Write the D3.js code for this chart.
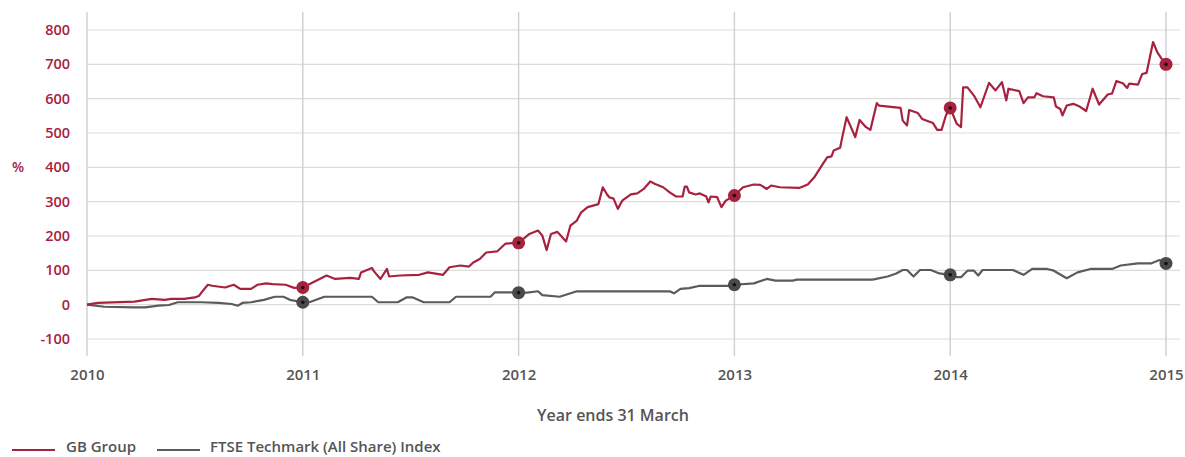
<!DOCTYPE html>
<html>
<head>
<meta charset="utf-8">
<script src="https://cdn.jsdelivr.net/npm/d3@7"></script>
<style>
  body { margin: 0; background: #fff; }
  text { font-family: "Open Sans", sans-serif; }
</style>
</head>
<body>
<div id="chart"></div>
<script>
// GB Group total shareholder return, % (decimal year, value)
const gbGroup = [
    [2010.00, 0], [2010.05, 5], [2010.22, 9], [2010.30, 17], [2010.36, 14], [2010.39, 17],
    [2010.45, 17], [2010.50, 21], [2010.52, 26], [2010.53, 35], [2010.56, 58], [2010.58, 55],
    [2010.64, 50], [2010.68, 58], [2010.71, 46], [2010.76, 46], [2010.79, 58], [2010.83, 62],
    [2010.86, 60], [2010.92, 58], [2010.96, 49], [2011.00, 50], [2011.11, 85], [2011.15, 75],
    [2011.22, 78], [2011.26, 75], [2011.27, 94], [2011.32, 107], [2011.33, 97], [2011.36, 75],
    [2011.39, 104], [2011.40, 82], [2011.45, 85], [2011.54, 87], [2011.58, 94], [2011.65, 87],
    [2011.68, 109], [2011.73, 114], [2011.77, 111], [2011.79, 123], [2011.82, 133], [2011.85, 152],
    [2011.90, 155], [2011.94, 178], [2012.00, 180], [2012.05, 206], [2012.09, 216], [2012.11, 201],
    [2012.13, 159], [2012.15, 206], [2012.18, 212], [2012.22, 184], [2012.24, 230], [2012.27, 245],
    [2012.29, 269], [2012.32, 284], [2012.37, 293], [2012.39, 342], [2012.41, 321], [2012.42, 313],
    [2012.44, 309], [2012.46, 279], [2012.48, 303], [2012.52, 321], [2012.55, 324], [2012.58, 337],
    [2012.61, 359], [2012.63, 352], [2012.67, 342], [2012.70, 327], [2012.73, 315], [2012.76, 315],
    [2012.77, 344], [2012.78, 344], [2012.79, 327], [2012.82, 321], [2012.84, 324], [2012.87, 315],
    [2012.88, 298], [2012.89, 315], [2012.92, 313], [2012.94, 284], [2012.96, 303], [2013.00, 318],
    [2013.04, 342], [2013.09, 350], [2013.12, 349], [2013.15, 337], [2013.17, 347], [2013.21, 342],
    [2013.30, 340], [2013.34, 350], [2013.37, 371], [2013.41, 410], [2013.43, 429], [2013.45, 432],
    [2013.46, 449], [2013.49, 457], [2013.50, 488], [2013.52, 546], [2013.54, 517], [2013.56, 488],
    [2013.58, 538], [2013.61, 517], [2013.63, 509], [2013.66, 587], [2013.67, 580], [2013.77, 573],
    [2013.78, 536], [2013.80, 522], [2013.81, 567], [2013.85, 558], [2013.87, 541], [2013.92, 529],
    [2013.94, 509], [2013.96, 509], [2013.98, 551], [2014.00, 573], [2014.03, 527], [2014.05, 517],
    [2014.06, 633], [2014.08, 633], [2014.11, 609], [2014.14, 575], [2014.18, 646], [2014.21, 624],
    [2014.24, 648], [2014.26, 595], [2014.27, 629], [2014.32, 622], [2014.34, 587], [2014.36, 604],
    [2014.39, 604], [2014.40, 616], [2014.43, 607], [2014.48, 604], [2014.49, 577], [2014.51, 570],
    [2014.52, 551], [2014.54, 580], [2014.57, 585], [2014.60, 577], [2014.63, 564], [2014.66, 629],
    [2014.69, 583], [2014.73, 612], [2014.75, 615], [2014.77, 651], [2014.80, 645], [2014.82, 631],
    [2014.83, 644], [2014.87, 641], [2014.89, 672], [2014.91, 675], [2014.94, 765], [2014.96, 735],
    [2014.98, 716], [2015.00, 700]
];

// FTSE Techmark (All Share) Index, % (decimal year, value)
const ftseTechmark = [
    [2010.00, 0], [2010.08, -6], [2010.22, -8], [2010.27, -8], [2010.33, -3], [2010.38, -1],
    [2010.42, 7], [2010.53, 7], [2010.61, 5], [2010.67, 2], [2010.70, -3], [2010.72, 5],
    [2010.76, 7], [2010.82, 14], [2010.87, 23], [2010.91, 23], [2010.94, 14], [2011.00, 7],
    [2011.03, 7], [2011.10, 23], [2011.32, 23], [2011.35, 7], [2011.44, 7], [2011.48, 21],
    [2011.51, 21], [2011.56, 7], [2011.68, 7], [2011.71, 23], [2011.87, 23], [2011.89, 36],
    [2011.97, 36], [2012.00, 35], [2012.04, 35], [2012.09, 39], [2012.11, 28], [2012.19, 23],
    [2012.27, 39], [2012.70, 39], [2012.72, 33], [2012.75, 46], [2012.79, 48], [2012.84, 55],
    [2012.98, 55], [2013.00, 58], [2013.09, 62], [2013.15, 75], [2013.19, 70], [2013.27, 70],
    [2013.29, 73], [2013.64, 73], [2013.71, 82], [2013.75, 91], [2013.78, 101], [2013.80, 101],
    [2013.83, 82], [2013.86, 101], [2013.91, 101], [2013.95, 91], [2014.00, 87], [2014.03, 80],
    [2014.05, 80], [2014.08, 99], [2014.11, 99], [2014.13, 85], [2014.15, 101], [2014.29, 101],
    [2014.34, 87], [2014.38, 104], [2014.45, 104], [2014.48, 99], [2014.54, 77], [2014.59, 94],
    [2014.65, 104], [2014.75, 104], [2014.79, 114], [2014.87, 120], [2014.93, 120], [2014.97, 130],
    [2015.00, 120]
];

const yearTicks = [2010, 2011, 2012, 2013, 2014, 2015];
const valueTicks = [-100, 0, 100, 200, 300, 400, 500, 600, 700, 800];
const seriesNames = ["GB Group", "FTSE Techmark (All Share) Index"];

const red = "#a8213f", grey = "#5b5b5b";
const width = 1185, height = 457;

const svg = d3.select("#chart").append("svg")
    .attr("width", width)
    .attr("height", height);

const x = d3.scaleLinear().domain([2010, 2015]).range([87, 1166]);
const y = d3.scaleLinear().domain([-100, 800]).range([339, 30]);

// horizontal grid
svg.append("g")
    .selectAll("line")
    .data(valueTicks)
    .enter().append("line")
    .attr("x1", 87).attr("x2", 1180)
    .attr("y1", d => y(d)).attr("y2", d => y(d))
    .attr("stroke", "#dcdcdc")
    .attr("stroke-width", 1.2);

// vertical grid (one per year)
svg.append("g")
    .selectAll("line")
    .data(yearTicks)
    .enter().append("line")
    .attr("x1", d => x(d)).attr("x2", d => x(d))
    .attr("y1", 12).attr("y2", 356)
    .attr("stroke", "#cfcfcf")
    .attr("stroke-width", 1.4);

// y axis labels (plain hyphen for negatives, as in the source)
const yAxis = svg.append("g")
    .attr("transform", "translate(70,0)")
    .call(d3.axisLeft(y).tickValues(valueTicks).tickFormat(d => String(d)).tickSize(0).tickPadding(0));
yAxis.select(".domain").remove();
yAxis.selectAll("text")
    .attr("fill", red)
    .style("font-size", "14.5px")
    .style("font-weight", "600");

svg.append("text")
    .attr("x", 12).attr("y", y(400) + 5)
    .attr("fill", red)
    .style("font-size", "14px")
    .style("font-weight", "600")
    .text("%");

// x axis labels
const xAxis = svg.append("g")
    .attr("transform", "translate(0,369)")
    .call(d3.axisBottom(x).tickValues(yearTicks).tickFormat(d3.format("d")).tickSize(0).tickPadding(0));
xAxis.select(".domain").remove();
xAxis.selectAll("text")
    .attr("fill", "#555")
    .style("font-size", "15px")
    .style("font-weight", "600");

svg.append("text")
    .attr("x", 613).attr("y", 421)
    .attr("text-anchor", "middle")
    .attr("fill", "#555")
    .style("font-size", "16px")
    .style("font-weight", "600")
    .text("Year ends 31 March");

// lines
const line = d3.line().x(d => x(d[0])).y(d => y(d[1]));

svg.append("path")
    .datum(ftseTechmark)
    .attr("fill", "none")
    .attr("stroke", grey)
    .attr("stroke-width", 2.2)
    .attr("stroke-linejoin", "round")
    .attr("d", line);

svg.append("path")
    .datum(gbGroup)
    .attr("fill", "none")
    .attr("stroke", red)
    .attr("stroke-width", 2.2)
    .attr("stroke-linejoin", "round")
    .attr("d", line);

// year-end markers
function markers(data, color) {
    const pts = data.filter(d => yearTicks.includes(d[0]) && d[0] > 2010);
    const g = svg.append("g");
    g.selectAll("circle.outer")
        .data(pts)
        .enter().append("circle")
        .attr("cx", d => x(d[0]))
        .attr("cy", d => y(d[1]))
        .attr("r", 6.5)
        .attr("fill", color);
    g.selectAll("circle.inner")
        .data(pts)
        .enter().append("circle")
        .attr("cx", d => x(d[0]))
        .attr("cy", d => y(d[1]))
        .attr("r", 1.8)
        .attr("fill", "#111");
}
markers(ftseTechmark, "#4a4a4a");
markers(gbGroup, red);

// legend
const legend = svg.append("g");
[[12, 66, red], [157, 210, grey]].forEach((p, i) => {
    legend.append("line")
        .attr("x1", p[0]).attr("x2", p[0] + 43)
        .attr("y1", 450).attr("y2", 450)
        .attr("stroke", p[2])
        .attr("stroke-width", 2);
    legend.append("text")
        .attr("x", p[1]).attr("y", 452)
        .attr("fill", "#555")
        .style("font-size", "15px")
        .style("font-weight", "600")
        .text(seriesNames[i]);
});
</script>
</body>
</html>
